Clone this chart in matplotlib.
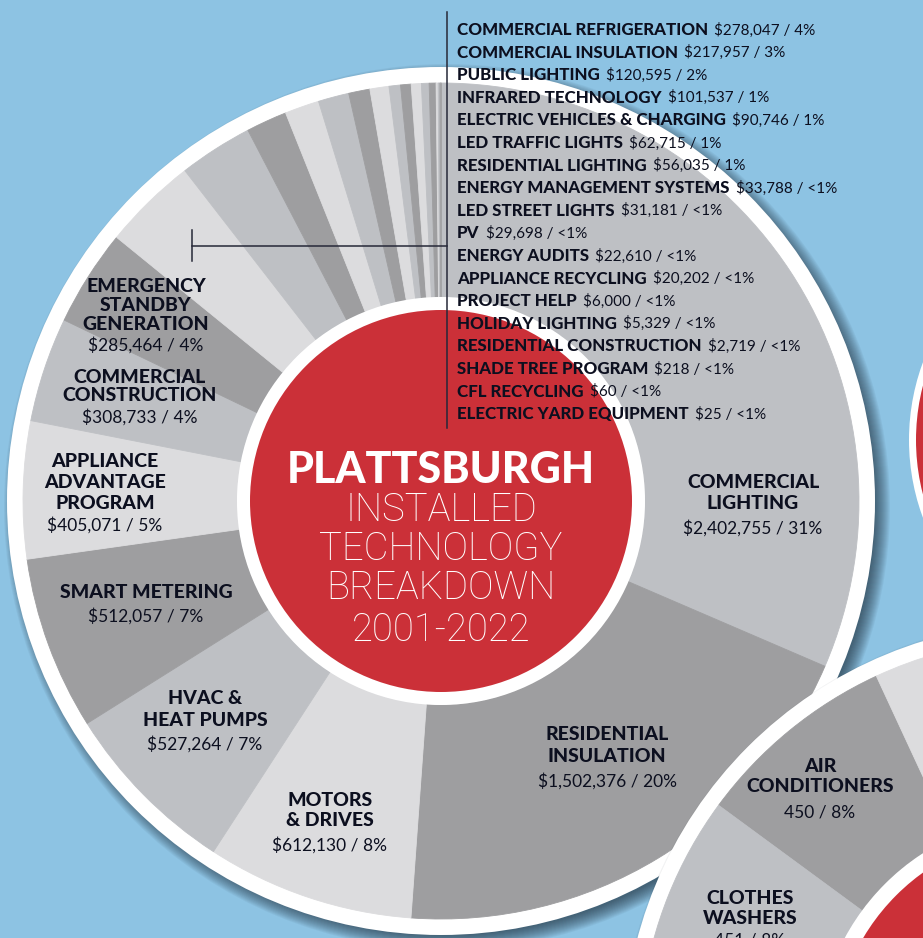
import matplotlib
matplotlib.use("Agg")
import matplotlib.pyplot as plt
from matplotlib.patches import Circle

W, H = 923, 938

# Plattsburgh installed technology spend, 2001-2022, clockwise from 12 o'clock
techs = ["COMMERCIAL LIGHTING", "RESIDENTIAL INSULATION", "MOTORS & DRIVES",
         "HVAC & HEAT PUMPS", "SMART METERING", "APPLIANCE ADVANTAGE PROGRAM",
         "COMMERCIAL CONSTRUCTION", "EMERGENCY STANDBY GENERATION",
         "COMMERCIAL REFRIGERATION", "COMMERCIAL INSULATION", "PUBLIC LIGHTING",
         "INFRARED TECHNOLOGY", "ELECTRIC VEHICLES & CHARGING", "LED TRAFFIC LIGHTS",
         "RESIDENTIAL LIGHTING", "ENERGY MANAGEMENT SYSTEMS", "LED STREET LIGHTS", "PV",
         "ENERGY AUDITS", "APPLIANCE RECYCLING", "PROJECT HELP", "HOLIDAY LIGHTING",
         "RESIDENTIAL CONSTRUCTION", "SHADE TREE PROGRAM", "CFL RECYCLING",
         "ELECTRIC YARD EQUIPMENT"]
spend = [2402755, 1502376, 612130, 527264, 512057, 405071, 308733, 285464,
         278047, 217957, 120595, 101537, 90746, 62715, 56035, 33788, 31181, 29698,
         22610, 20202, 6000, 5329, 2719, 218, 60, 25]

# neighbouring chart (rebate counts), only partly on the page
units = ["AIR CONDITIONERS", "CLOTHES WASHERS"]
unit_counts = [450, 451]
unit_share = ["8%", "8%"]
unit_total = 5625

# colours
BLUE = "#8dc3e3"
RED = "#cb3038"
NAVY = "#0c0f1f"
LIGHT, MID, DARK = "#dcdcde", "#bec0c4", "#9e9ea0"

FAM = ["Lato", "DejaVu Sans"]
BOLD = dict(family=FAM, weight="black", color=NAVY)
THIN = dict(family=FAM, weight="normal", color=NAVY)


def Y(y):
    return H - y


def ring_base(ax, cx, cy, r_white, z):
    # soft drop shadow, then the white outer ring
    for k in range(16):
        ax.add_patch(Circle((cx + 6, cy - 6), r_white - 6 + k, color="#15222e",
                            alpha=0.05, lw=0, zorder=z))
    ax.add_patch(Circle((cx, cy), r_white, color="white", lw=0, zorder=z + 0.1))


fig = plt.figure(figsize=(W / 100, H / 100), dpi=100, facecolor=BLUE)
ax = fig.add_axes([0, 0, 1, 1])
ax.set_facecolor(BLUE)

total = sum(spend)
pcts = []
for v in spend:
    p = round(100 * v / total)
    pcts.append("<1%" if p < 1 else f"{p}%")

# main donut
cx, cy = 441, Y(501)
ring_base(ax, cx, cy, 434, 1)
cycle = [MID, DARK, LIGHT]
colors = [cycle[i % 3] for i in range(len(spend))]
wedges, _ = ax.pie(spend, colors=colors, startangle=90, counterclock=False,
                   radius=418, center=(cx, cy),
                   wedgeprops=dict(width=214, linewidth=0.6, zorder=3))
for w in wedges:
    w.set_edgecolor(w.get_facecolor())
ax.add_patch(Circle((cx, cy), 204, color="white", lw=0, zorder=4))
ax.add_patch(Circle((cx, cy), 191, color=RED, lw=0, zorder=5))

# red hub peeking in at the right edge
ax.add_patch(Circle((1133, Y(440)), 224, color="white", lw=0, zorder=2))
ax.add_patch(Circle((1133, Y(440)), 217, color=RED, lw=0, zorder=2.1))

# second donut, bottom right
cx2, cy2 = 1049, Y(1048)
ring_base(ax, cx2, cy2, 426, 6)
rest = unit_total - sum(unit_counts)
w2, _ = ax.pie(unit_counts + [rest], colors=[DARK, MID, LIGHT], startangle=114.9,
               counterclock=True, radius=410, center=(cx2, cy2),
               wedgeprops=dict(width=178, linewidth=0.6, zorder=7))
for w in w2:
    w.set_edgecolor(w.get_facecolor())
ax.add_patch(Circle((cx2, cy2), 232, color="white", lw=0, zorder=8))
ax.add_patch(Circle((cx2, cy2), 216, color=RED, lw=0, zorder=9))

ax.set_xlim(0, W)
ax.set_ylim(0, H)
ax.set_aspect("equal")
ax.axis("off")

# centre title
ax.text(cx, Y(470), "PLATTSBURGH", ha="center", va="center", fontsize=31,
        family=FAM, weight="black", color="white", zorder=20)
for txt, yy in zip(["INSTALLED", "TECHNOLOGY", "BREAKDOWN", "2001-2022"],
                   [510, 549, 588, 630]):
    ax.text(cx, Y(yy), txt, ha="center", va="center", fontsize=27.5,
            family=["Roboto"] + FAM, weight="light", color="white", zorder=20)

# labels inside the big slices: wrapped name, x, first line y, line step, value y
wrapped = ["COMMERCIAL\nLIGHTING", "RESIDENTIAL\nINSULATION", "MOTORS\n& DRIVES",
           "HVAC &\nHEAT PUMPS", "SMART METERING", "APPLIANCE\nADVANTAGE\nPROGRAM",
           "COMMERCIAL\nCONSTRUCTION", "EMERGENCY\nSTANDBY\nGENERATION"]
spots = [(753, 482, 21, 528), (607, 735, 22, 781), (330, 800, 21, 845),
         (205, 699, 21, 744), (146, 592, 21, 616), (105, 461, 21, 525),
         (140, 377, 18, 417), (146, 286, 19, 345)]
for i, (name, (x, y0, step, yv)) in enumerate(zip(wrapped, spots)):
    for j, line in enumerate(name.split("\n")):
        ax.text(x, Y(y0 + j * step), line, ha="center", va="center",
                fontsize=14, zorder=20, **BOLD)
    ax.text(x, Y(yv), f"${spend[i]:,} / {pcts[i]}", ha="center", va="center",
            fontsize=12.5, zorder=20, **THIN)

# leader to the list of small slices
lc = "#262838"
ax.plot([447, 447], [Y(12), Y(428)], color=lc, lw=1.1, zorder=19)
ax.plot([192, 447], [Y(246), Y(246)], color=lc, lw=1.1, zorder=19)
ax.plot([192, 192], [Y(230), Y(261)], color=lc, lw=1.1, zorder=19)

fig.canvas.draw()
rend = fig.canvas.get_renderer()
inv = ax.transData.inverted()
for k, i in enumerate(range(8, len(spend))):
    yy = Y(30 + k * 22.6)
    t = ax.text(457, yy, techs[i], ha="left", va="center", fontsize=12.2,
                zorder=20, **BOLD)
    x_end = inv.transform(t.get_window_extent(rend).get_points())[1, 0]
    ax.text(x_end + 6, yy, f"${spend[i]:,} / {pcts[i]}", ha="left", va="center",
            fontsize=11, zorder=20, **THIN)

# second donut labels
for name, n, s, (x, y0, yv) in zip(units, unit_counts, unit_share,
                                   [(820, 767, 812), (750, 899, 940)]):
    for j, line in enumerate(name.split(" ")):
        ax.text(x, Y(y0 + j * 20), line, ha="center", va="center",
                fontsize=14, zorder=20, **BOLD)
    ax.text(x, Y(yv), f"{n} / {s}", ha="center", va="center",
            fontsize=12.5, zorder=20, **THIN)

fig.savefig("out.png", dpi=100, facecolor=BLUE)
